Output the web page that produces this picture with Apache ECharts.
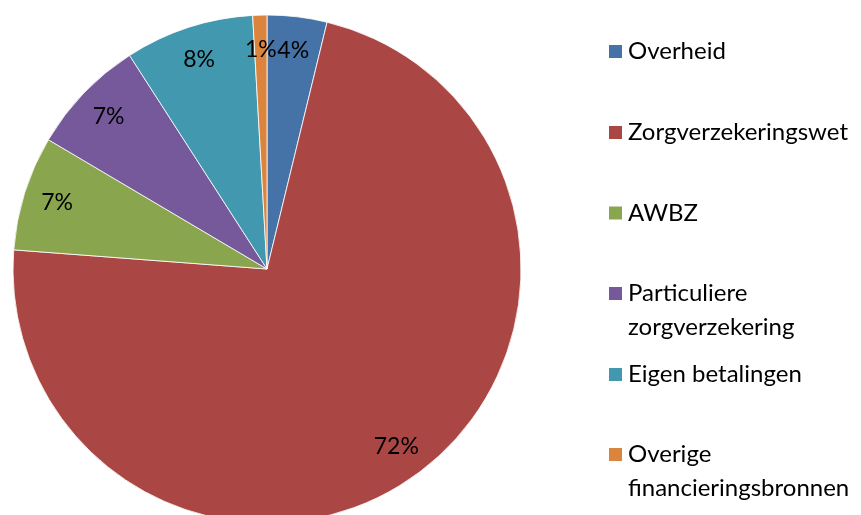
<!DOCTYPE html>
<html>
<head>
<meta charset="utf-8">
<script src="https://cdn.jsdelivr.net/npm/echarts@6/dist/echarts.min.js"></script>
<style>html,body{margin:0;padding:0;background:#fff}#c{width:861px;height:515px}</style>
</head>
<body>
<div id="c"></div>
<script>
const categories = ['Overheid','Zorgverzekeringswet','AWBZ','Particuliere zorgverzekering','Eigen betalingen','Overige financieringsbronnen'];
const values = [3.8, 72.4, 7.3, 7.4, 8.2, 0.9];
const colors = ['#4572A7','#AA4643','#89A54E','#76599A','#4198AF','#DB843D'];
const legendCenters = [51.5, 132.5, 213, 293.5, 374.5, 454.5];

const FONT = 'Lato';
const FS = 24;
const LH = 34;
const total = values.reduce((a,b)=>a+b,0);
const data = categories.map((n,i)=>({name:n, value:values[i], itemStyle:{color:colors[i]}}));

function legendText(name){
  const parts = name.split(' ');
  if (name.length > 22) return ' \n' + parts[0] + '\n' + parts.slice(1).join(' ');
  return name;
}
const legends = categories.map((n,i)=>{
  const lines = legendText(n).split('\n').length;
  const half = Math.max(7.5, lines*LH/2);
  return {
    data:[n], left:607, top: legendCenters[i]-half, padding:0, orient:'vertical',
    itemWidth:15, itemHeight:15, itemGap:0, icon:'rect',
    formatter: legendText,
    textStyle:{fontFamily:FONT, fontSize:FS, color:'#000', lineHeight:LH, padding:[0,0,0,0]}
  };
});

const chart = echarts.init(document.getElementById('c'));
chart.setOption({
  animation:false,
  legend: legends,
  series:[
    {
      type:'pie', center:[267,269], radius:254, startAngle:90, clockwise:true,
      data:data, label:{show:false}, labelLine:{show:false},
      itemStyle:{borderColor:'#ffffff', borderWidth:0.8},
      emphasis:{disabled:true}
    },
    {
      type:'pie', center:[267,269], radius:[184,250], startAngle:90, clockwise:true,
      silent:true,
      data:categories.map((n,i)=>({name:n, value:values[i]})),
      itemStyle:{color:'rgba(0,0,0,0)', borderWidth:0},
      label:{show:true, position:'inside', fontFamily:FONT, fontSize:23, color:'#000',
        formatter: p => Math.round(p.value/total*100) + '%'},
      labelLine:{show:false},
      emphasis:{disabled:true}
    }
  ]
});
</script>
</body>
</html>
